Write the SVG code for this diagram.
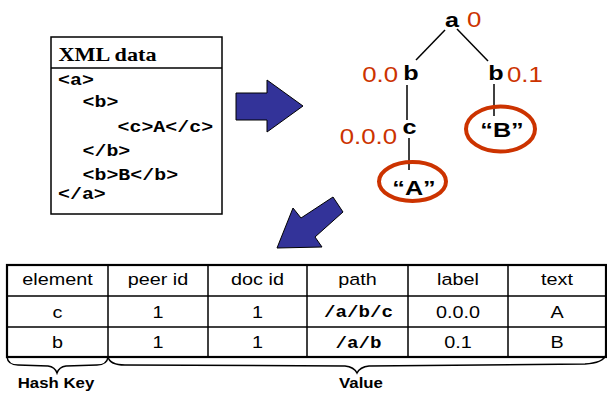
<svg xmlns="http://www.w3.org/2000/svg" width="607" height="397" viewBox="0 0 607 397">
<style>
.code{font-family:"Liberation Mono","Courier New",monospace;font-weight:bold;font-size:16.6px;fill:#000}
.title{font-family:"Liberation Serif","Times New Roman",serif;font-weight:bold;font-size:18.5px;fill:#000}
.tn{font-family:"Liberation Sans",Arial,sans-serif;font-weight:bold;font-size:21px;fill:#000}
.tl{font-family:"Liberation Sans",Arial,sans-serif;font-size:21.5px;fill:#CC3300}
.th{font-family:"Liberation Sans",Arial,sans-serif;font-size:16.5px;fill:#000}
.tc{font-family:"Liberation Mono","Courier New",monospace;font-weight:bold;font-size:16px;fill:#000}
.br{font-family:"Liberation Sans",Arial,sans-serif;font-weight:bold;font-size:14px;fill:#000}
.edge{stroke:#000;stroke-width:1.5;fill:none}
.oval{fill:none;stroke:#CC3300;stroke-width:4}
.bigarrow{fill:#333399;stroke:#000;stroke-width:1}
.grid{stroke:#000;stroke-width:1.5;fill:none}
</style>

<g id="xml-data">
  <rect x="51" y="37" width="171" height="177" fill="#fff" stroke="#000" stroke-width="1.5"/>
  <line x1="51" y1="68" x2="222" y2="68" stroke="#000" stroke-width="1.5"/>
  <text class="title" transform="matrix(1.2 0 0 1 58.5 61)">XML data</text>
  <text class="code" transform="matrix(1.2 0 0 1 58 85)">&lt;a&gt;</text>
  <text class="code" transform="matrix(1.2 0 0 1 82.5 107)">&lt;b&gt;</text>
  <text class="code" transform="matrix(1.2 0 0 1 117.5 132)">&lt;c&gt;A&lt;/c&gt;</text>
  <text class="code" transform="matrix(1.2 0 0 1 82.5 156)">&lt;/b&gt;</text>
  <text class="code" transform="matrix(1.2 0 0 1 82.5 179.5)">&lt;b&gt;B&lt;/b&gt;</text>
  <text class="code" transform="matrix(1.2 0 0 1 58 198.5)">&lt;/a&gt;</text>
</g>

<g id="arrow-right">
  <polygon class="bigarrow" points="236,93 267,93 267,80 303,106 267,132 267,120 236,120"/>
</g>
<g id="arrow-down">
  <polygon class="bigarrow" points="277,248 293,208 301,218 333,197 343,212 315,237 322,247"/>
</g>

<g id="connectors">
  <line class="edge" x1="445" y1="30" x2="416" y2="60"/>
  <line class="edge" x1="457" y1="29" x2="488" y2="61"/>
  <line class="edge" x1="407" y1="85" x2="407" y2="120"/>
  <line class="edge" x1="409" y1="138" x2="409" y2="170"/>
  <line class="edge" x1="494" y1="84" x2="494" y2="116"/>
</g>

<g id="node-a">
  <text class="tn" text-anchor="middle" transform="matrix(1.2 0 0 1 452 26.5)">a</text>
  <text class="tl" transform="matrix(1.2 0 0 1 467 27)">0</text>
</g>
<g id="node-b1">
  <text class="tn" text-anchor="middle" transform="matrix(1.2 0 0 1 411 80)">b</text>
  <text class="tl" text-anchor="end" transform="matrix(1.2 0 0 1 398 82)">0.0</text>
</g>
<g id="node-b2">
  <text class="tn" text-anchor="middle" transform="matrix(1.2 0 0 1 496 80)">b</text>
  <text class="tl" transform="matrix(1.2 0 0 1 507 82)">0.1</text>
</g>
<g id="node-c">
  <text class="tn" text-anchor="middle" transform="matrix(1.2 0 0 1 409.5 134)">c</text>
  <text class="tl" text-anchor="end" transform="matrix(1.2 0 0 1 397 144)">0.0.0</text>
</g>
<g id="node-textA">
  <ellipse class="oval" cx="412.5" cy="181.5" rx="33.5" ry="19.5"/>
  <text class="tn" text-anchor="middle" transform="matrix(1.2 0 0 1 414 195)">“A”</text>
</g>
<g id="node-textB">
  <ellipse class="oval" cx="500.5" cy="129" rx="34.5" ry="22.5"/>
  <text class="tn" text-anchor="middle" transform="matrix(1.2 0 0 1 502 137)">“B”</text>
</g>

<g id="table">
  <rect x="7" y="265" width="599" height="92" fill="#fff" stroke="none"/>
  <line class="grid" x1="7" y1="296" x2="606" y2="296"/>
  <line class="grid" x1="7" y1="327" x2="606" y2="327"/>
  <line class="grid" x1="108" y1="265" x2="108" y2="357"/>
  <line class="grid" x1="208" y1="265" x2="208" y2="357"/>
  <line class="grid" x1="307" y1="265" x2="307" y2="357"/>
  <line class="grid" x1="408" y1="265" x2="408" y2="357"/>
  <line class="grid" x1="508" y1="265" x2="508" y2="357"/>
  <rect x="7" y="265" width="599" height="92" fill="none" stroke="#000" stroke-width="2.2"/>
  <g text-anchor="middle">
    <text class="th" transform="matrix(1.2 0 0 1 57.5 285)">element</text>
    <text class="th" transform="matrix(1.2 0 0 1 158 285)">peer id</text>
    <text class="th" transform="matrix(1.2 0 0 1 257.5 285)">doc id</text>
    <text class="th" transform="matrix(1.2 0 0 1 357.5 285)">path</text>
    <text class="th" transform="matrix(1.2 0 0 1 458 285)">label</text>
    <text class="th" transform="matrix(1.2 0 0 1 557 285)">text</text>
    <text class="th" transform="matrix(1.2 0 0 1 57.5 317.5)">c</text>
    <text class="th" transform="matrix(1.2 0 0 1 158 317.5)">1</text>
    <text class="th" transform="matrix(1.2 0 0 1 257.5 317.5)">1</text>
    <text class="tc" transform="matrix(1.2 0 0 1 358.5 317)">/a/b/c</text>
    <text class="th" transform="matrix(1.2 0 0 1 458 317.5)">0.0.0</text>
    <text class="th" transform="matrix(1.2 0 0 1 557 317.5)">A</text>
    <text class="th" transform="matrix(1.2 0 0 1 57.5 348)">b</text>
    <text class="th" transform="matrix(1.2 0 0 1 158 348)">1</text>
    <text class="th" transform="matrix(1.2 0 0 1 257.5 348)">1</text>
    <text class="tc" transform="matrix(1.2 0 0 1 358.5 347.5)">/a/b</text>
    <text class="th" transform="matrix(1.2 0 0 1 458 348)">0.1</text>
    <text class="th" transform="matrix(1.2 0 0 1 557 348)">B</text>
  </g>
</g>

<g id="hash-key">
  <path d="M7,357 Q8,365 18,365 L48,366 Q55,367 57,373 Q59,367 66,366 L97,365 Q107,365 108,357" fill="none" stroke="#000" stroke-width="1.5"/>
  <text class="br" text-anchor="middle" transform="matrix(1.2 0 0 1 56 388)">Hash Key</text>
</g>
<g id="value">
  <path d="M108,357 Q110,365 125,365 L345,366 Q354,367 357,373 Q360,367 369,366 L585,364 Q603,363 606,355" fill="none" stroke="#000" stroke-width="1.5"/>
  <text class="br" text-anchor="middle" transform="matrix(1.2 0 0 1 361 388)">Value</text>
</g>
</svg>
